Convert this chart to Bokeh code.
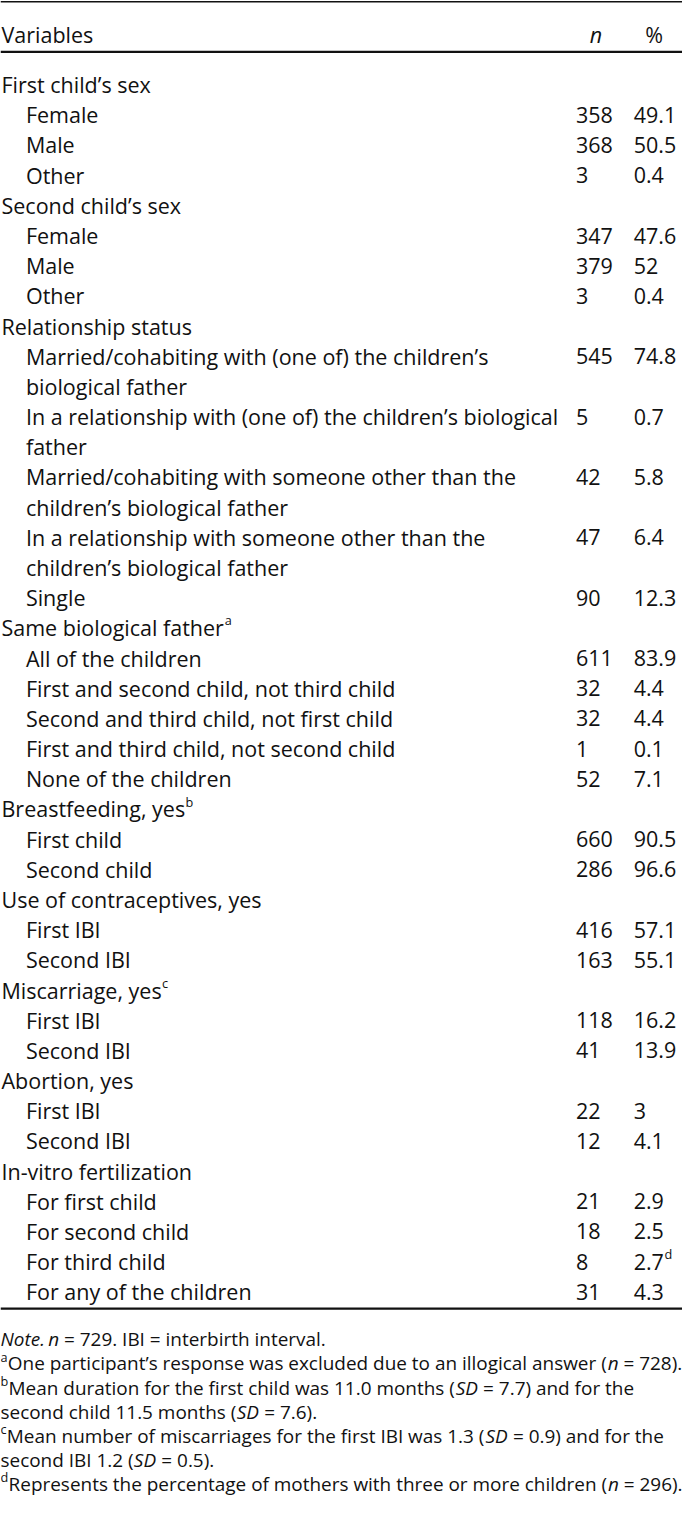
from bokeh.plotting import figure
from bokeh.models import Range1d, ColumnDataSource
from bokeh.embed import file_html
from bokeh.resources import INLINE
from bokeh.core.properties import value

# ---------------- DATA ----------------
row_labels = [
    "First child’s sex", "Female", "Male", "Other",
    "Second child’s sex", "Female", "Male", "Other",
    "Relationship status",
    "Married/cohabiting with (one of) the children’s\nbiological father",
    "In a relationship with (one of) the children’s biological\nfather",
    "Married/cohabiting with someone other than the\nchildren’s biological father",
    "In a relationship with someone other than the\nchildren’s biological father",
    "Single",
    "Same biological father", "All of the children",
    "First and second child, not third child",
    "Second and third child, not first child",
    "First and third child, not second child",
    "None of the children",
    "Breastfeeding, yes", "First child", "Second child",
    "Use of contraceptives, yes", "First IBI", "Second IBI",
    "Miscarriage, yes", "First IBI", "Second IBI",
    "Abortion, yes", "First IBI", "Second IBI",
    "In-vitro fertilization", "For first child", "For second child",
    "For third child", "For any of the children",
]
row_levels = [0, 1, 1, 1, 0, 1, 1, 1, 0, 1, 1, 1, 1, 1, 0, 1, 1, 1, 1, 1,
              0, 1, 1, 0, 1, 1, 0, 1, 1, 0, 1, 1, 0, 1, 1, 1, 1]
n_values = [None, 358, 368, 3, None, 347, 379, 3, None, 545, 5, 42, 47, 90,
            None, 611, 32, 32, 1, 52, None, 660, 286, None, 416, 163,
            None, 118, 41, None, 22, 12, None, 21, 18, 8, 31]
pct_values = [None, 49.1, 50.5, 0.4, None, 47.6, 52, 0.4, None, 74.8, 0.7,
              5.8, 6.4, 12.3, None, 83.9, 4.4, 4.4, 0.1, 7.1, None, 90.5,
              96.6, None, 57.1, 55.1, None, 16.2, 13.9, None, 3, 4.1, None,
              2.9, 2.5, 2.7, 4.3]
label_marks = {"Same biological father": "a", "Breastfeeding, yes": "b",
               "Miscarriage, yes": "c"}
pct_marks = {35: "d"}
header = ["Variables", "n", "%"]

note_lines = [
    [("Note.", "i"), (" ", "n"), ("n", "i"), (" = 729. IBI = interbirth interval.", "n")],
    [("a", "s"), ("One participant’s response was excluded due to an illogical answer (", "n"), ("n", "i"), (" = 728).", "n")],
    [("b", "s"), ("Mean duration for the first child was 11.0 months (", "n"), ("SD", "i"), (" = 7.7) and for the", "n")],
    [("second child 11.5 months (", "n"), ("SD", "i"), (" = 7.6).", "n")],
    [("c", "s"), ("Mean number of miscarriages for the first IBI was 1.3 (", "n"), ("SD", "i"), (" = 0.9) and for the", "n")],
    [("second IBI 1.2 (", "n"), ("SD", "i"), (" = 0.5).", "n")],
    [("d", "s"), ("Represents the percentage of mothers with three or more children (", "n"), ("n", "i"), (" = 296).", "n")],
]

# ---------------- LAYOUT ----------------
W, H = 682, 1512
RW, RH = 698, 1528          # reference coordinate frame
SX = W / RW
FONT = "Open Sans"
COLOR = "#111111"
F_TAB = 22.0 * SX
F_NOTE = 19.4 * SX
F_SUP = 13.0 * SX

# approximate Open Sans advance widths (units per em = 2048)
ADV = {" ": 532, ".": 545, ",": 501, "(": 608, ")": 608, "=": 1171, "-": 659,
       "/": 758, "’": 356, "%": 1686}
for d in "0123456789":
    ADV[d] = 1171
ADV.update({"A": 1296, "B": 1327, "C": 1292, "D": 1493, "E": 1124, "F": 1028,
            "I": 571, "M": 1849, "N": 1548, "O": 1599, "R": 1298, "S": 1124,
            "U": 1493, "V": 1186})
ADV.update({"a": 1139, "b": 1255, "c": 975, "d": 1255, "e": 1149, "f": 694,
            "g": 1122, "h": 1257, "i": 518, "l": 518, "m": 1905, "n": 1257,
            "o": 1237, "p": 1255, "r": 836, "s": 977, "t": 723, "u": 1257,
            "v": 1026, "w": 1593, "x": 1073, "y": 1028})


def tw(s, size):
    return sum(ADV.get(c, 1150) for c in s) / 2048.0 * size / SX


p = figure(width=W, height=H, x_range=Range1d(0, RW), y_range=Range1d(RH, 0),
           output_backend="svg", toolbar_location=None, min_border=0,
           x_axis_location=None, y_axis_location=None)
p.grid.visible = False
p.outline_line_color = None
p.background_fill_color = "white"
p.border_fill_color = "white"

# rules
p.segment(x0=[0], x1=[RW], y0=[1.2], y1=[1.2], line_color=COLOR, line_width=1.4)
p.segment(x0=[0], x1=[RW], y0=[52], y1=[52], line_color=COLOR, line_width=2.2)

X0, X1 = 1, 26
XN, XP = 589, 648
BASE0, PITCH = 85.0, 30.5

groups = {"n": dict(x=[], y=[], t=[]), "i": dict(x=[], y=[], t=[])}
sups = dict(x=[], y=[], t=[])

# header
groups["n"]["x"].append(X0); groups["n"]["y"].append(34); groups["n"]["t"].append(header[0])
groups["i"]["x"].append(603); groups["i"]["y"].append(34); groups["i"]["t"].append(header[1])
groups["n"]["x"].append(660); groups["n"]["y"].append(34); groups["n"]["t"].append(header[2])

line_no = 0
for k, lab in enumerate(row_labels):
    x = X0 if row_levels[k] == 0 else X1
    parts = lab.split("\n")
    yb = BASE0 + PITCH * line_no
    for j, part in enumerate(parts):
        groups["n"]["x"].append(x)
        groups["n"]["y"].append(BASE0 + PITCH * (line_no + j))
        groups["n"]["t"].append(part)
    if lab in label_marks:
        sups["x"].append(x + tw(lab, F_TAB) + 0.5)
        sups["y"].append(yb - 7.5)
        sups["t"].append(label_marks[lab])
    if n_values[k] is not None:
        groups["n"]["x"].append(XN); groups["n"]["y"].append(yb)
        groups["n"]["t"].append(str(n_values[k]))
    if pct_values[k] is not None:
        ptxt = "{:g}".format(pct_values[k])
        groups["n"]["x"].append(XP); groups["n"]["y"].append(yb)
        groups["n"]["t"].append(ptxt)
        if k in pct_marks:
            sups["x"].append(XP + tw(ptxt, F_TAB) + 0.5)
            sups["y"].append(yb - 7.5)
            sups["t"].append(pct_marks[k])
    line_no += len(parts)

last_base = BASE0 + PITCH * (line_no - 1)
p.segment(x0=[0], x1=[RW], y0=[last_base + 17], y1=[last_base + 17],
          line_color=COLOR, line_width=2.2)

# notes
ngroups = {"n": dict(x=[], y=[], t=[]), "i": dict(x=[], y=[], t=[])}
nsups = dict(x=[], y=[], t=[])
NB0, NPITCH = last_base + 48, 24.4
for li, segs in enumerate(note_lines):
    x = 0.0
    yb = NB0 + NPITCH * li
    for txt, st in segs:
        if st == "s":
            nsups["x"].append(x); nsups["y"].append(yb - 7); nsups["t"].append(txt)
            x += tw(txt, F_SUP) + 0.3
            continue
        lead = len(txt) - len(txt.lstrip(" "))
        x += tw(" " * lead, F_NOTE) * (0.6 if st == "n" and lead and x > 0 and segs[0][1] == "i" and txt == " " else 1.0)
        body = txt.strip(" ")
        if body:
            ngroups[st]["x"].append(x); ngroups[st]["y"].append(yb); ngroups[st]["t"].append(body)
        x += tw(txt.lstrip(" "), F_NOTE) * (0.93 if st == "i" else 1.0)


def draw(g, size, style):
    src = ColumnDataSource(dict(x=g["x"], y=g["y"], text=g["t"]))
    p.text(x="x", y="y", text="text", source=src, text_font=value(FONT),
           text_font_size=value("%.2fpx" % size), text_font_style=style,
           text_color=COLOR, text_align="left", text_baseline="alphabetic")


draw(groups["n"], F_TAB, "normal")
draw(groups["i"], F_TAB, "italic")
draw(sups, F_SUP, "normal")
draw(ngroups["n"], F_NOTE, "normal")
draw(ngroups["i"], F_NOTE, "italic")
draw(nsups, F_SUP, "normal")

open("out.html", "w").write(file_html(p, INLINE))
